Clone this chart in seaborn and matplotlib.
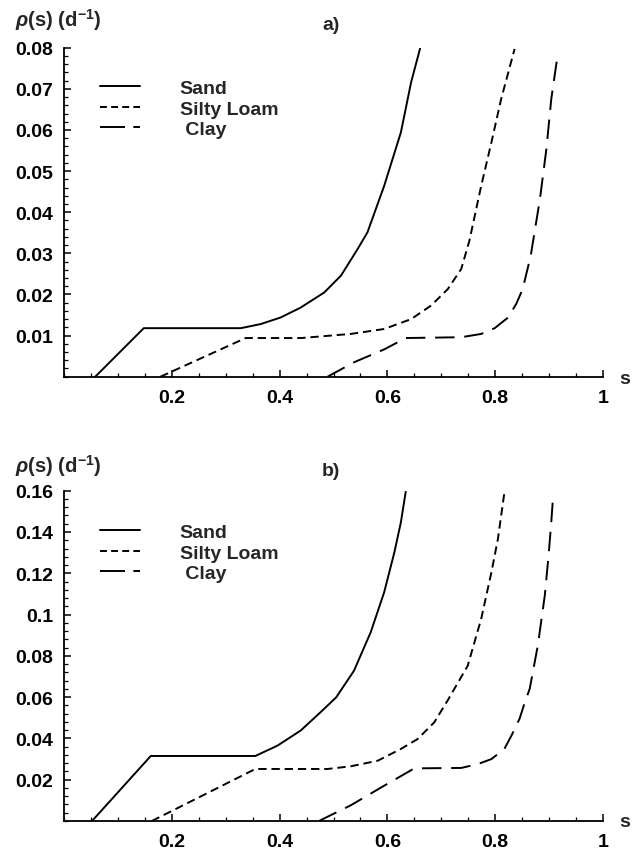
import numpy as np
import pandas as pd
import matplotlib
matplotlib.use("Agg")
import matplotlib.pyplot as plt
from matplotlib.lines import Line2D
from matplotlib.ticker import FixedLocator, MultipleLocator
import seaborn as sns

# ---------------- data ----------------
soils = ["Sand", "Silty Loam", "Clay"]

# panel a)
sand_a_s = [0.058, 0.148, 0.328, 0.365, 0.402, 0.439, 0.483, 0.514, 0.545, 0.563, 0.594, 0.625, 0.644, 0.661]
sand_a_r = [0.0, 0.0118, 0.0118, 0.0128, 0.0144, 0.0168, 0.0205, 0.0246, 0.0311, 0.0351, 0.0464, 0.0594, 0.0716, 0.080]
silt_a_s = [0.179, 0.337, 0.44, 0.532, 0.594, 0.644, 0.681, 0.712, 0.737, 0.752, 0.774, 0.793, 0.811, 0.836]
silt_a_r = [0.0, 0.0094, 0.0094, 0.0104, 0.0116, 0.014, 0.0173, 0.0213, 0.0262, 0.033, 0.0464, 0.057, 0.0675, 0.0797]
clay_a_s = [0.489, 0.538, 0.595, 0.634, 0.737, 0.774, 0.799, 0.824, 0.839, 0.851, 0.866, 0.883, 0.895, 0.904, 0.915]
clay_a_r = [0.0, 0.0035, 0.0067, 0.0094, 0.0096, 0.0104, 0.0118, 0.0144, 0.0177, 0.0213, 0.0295, 0.0432, 0.0554, 0.0675, 0.0775]

# panel b)
sand_b_s = [0.052, 0.161, 0.355, 0.396, 0.439, 0.476, 0.505, 0.538, 0.569, 0.594, 0.613, 0.625, 0.634]
sand_b_r = [0.0, 0.0315, 0.0315, 0.0365, 0.0438, 0.0527, 0.0599, 0.0728, 0.0914, 0.1108, 0.1302, 0.1447, 0.1595]
silt_b_s = [0.163, 0.355, 0.489, 0.532, 0.582, 0.625, 0.656, 0.687, 0.712, 0.749, 0.774, 0.793, 0.805, 0.817]
silt_b_r = [0.0, 0.0252, 0.0252, 0.0265, 0.0292, 0.0349, 0.0397, 0.0478, 0.0585, 0.0752, 0.0979, 0.1205, 0.1366, 0.159]
clay_b_s = [0.473, 0.532, 0.594, 0.65, 0.737, 0.768, 0.793, 0.817, 0.83, 0.845, 0.855, 0.864, 0.879, 0.892, 0.899, 0.904, 0.907]
clay_b_r = [0.0, 0.0076, 0.0171, 0.0255, 0.0257, 0.0276, 0.030, 0.0349, 0.0413, 0.0494, 0.0575, 0.064, 0.0849, 0.1092, 0.1285, 0.1447, 0.1557]

x_ticks = [0.2, 0.4, 0.6, 0.8, 1.0]
x_ticklabels = ["0.2", "0.4", "0.6", "0.8", "1"]
ya_ticks = [0.01, 0.02, 0.03, 0.04, 0.05, 0.06, 0.07, 0.08]
ya_ticklabels = ["0.01", "0.02", "0.03", "0.04", "0.05", "0.06", "0.07", "0.08"]
yb_ticks = [0.02, 0.04, 0.06, 0.08, 0.10, 0.12, 0.14, 0.16]
yb_ticklabels = ["0.02", "0.04", "0.06", "0.08", "0.1", "0.12", "0.14", "0.16"]
legend_labels = ["Sand", "Silty Loam", " Clay"]
panel_labels = ["a)", "b)"]
ylabel_text = r"$\rho$(s) (d$^{-1}$)"

# ---------------- style ----------------
sns.set_theme(style="white")
plt.rcParams["font.family"] = ["Liberation Sans", "DejaVu Sans"]
plt.rcParams["font.weight"] = "bold"
plt.rcParams["mathtext.fontset"] = "custom"
plt.rcParams["mathtext.rm"] = "Liberation Sans:bold"
plt.rcParams["mathtext.it"] = "Liberation Sans:italic:bold"
plt.rcParams["mathtext.bf"] = "Liberation Sans:bold"
plt.rcParams["lines.scale_dashes"] = False

FS = 14
LW = 1.4
dash_map = {"Sand": "", "Silty Loam": (6, 3.5), "Clay": (14, 7)}
legend_dash = {"Sand": None, "Silty Loam": (0, (5, 3)), "Clay": (0, (18, 6))}


def frame(s_list, r_list):
    parts = []
    for name, s, r in zip(soils, s_list, r_list):
        parts.append(pd.DataFrame({"s": s, "rho": r, "soil": name}))
    return pd.concat(parts, ignore_index=True)


df_a = frame([sand_a_s, silt_a_s, clay_a_s], [sand_a_r, silt_a_r, clay_a_r])
df_b = frame([sand_b_s, silt_b_s, clay_b_s], [sand_b_r, silt_b_r, clay_b_r])

W, H = 636, 853
fig = plt.figure(figsize=(W / 100, H / 100), dpi=100)
fig.patch.set_facecolor("white")

ax_a = fig.add_axes([64 / W, 1 - 377.7 / H, 539 / W, 329 / H])
ax_b = fig.add_axes([64 / W, 1 - 822 / H, 539 / W, 330.3 / H])

setups = [
    (ax_a, df_a, 0.08, ya_ticks, ya_ticklabels, 0.002, 20, 25, 380, 0.903),
    (ax_b, df_b, 0.16, yb_ticks, yb_ticklabels, 0.004, 466, 472, 823, 0.901),
]

for i, (ax, df, ymax, yt, ytl, yminor, ylab_y, plab_y, s_y, leg_y) in enumerate(setups):
    sns.lineplot(data=df, x="s", y="rho", style="soil", style_order=soils,
                 dashes=dash_map, color="black", linewidth=LW, sort=False,
                 estimator=None, legend=False, ax=ax)
    ax.set_xlim(0, 1)
    ax.set_ylim(0, ymax)
    ax.set_facecolor("white")
    for sp in ["top", "right"]:
        ax.spines[sp].set_visible(False)
    for sp in ["left", "bottom"]:
        ax.spines[sp].set_color("black")
        ax.spines[sp].set_linewidth(1.3)
    ax.set_xlabel("")
    ax.set_ylabel("")
    ax.xaxis.set_major_locator(FixedLocator(x_ticks))
    ax.set_xticklabels(x_ticklabels)
    ax.xaxis.set_minor_locator(MultipleLocator(0.05))
    ax.yaxis.set_major_locator(FixedLocator(yt))
    ax.set_yticklabels(ytl)
    ax.yaxis.set_minor_locator(MultipleLocator(yminor))
    ax.tick_params(which="both", direction="in", color="black",
                   bottom=True, left=True, top=False, right=False)
    ax.tick_params(which="major", length=5, width=1.1, labelsize=FS,
                   labelcolor="black")
    ax.tick_params(axis="x", which="major", pad=9)
    ax.tick_params(axis="y", which="major", pad=8)
    ax.tick_params(which="minor", length=2.8, width=0.9)
    for lab in ax.get_xticklabels() + ax.get_yticklabels():
        lab.set_fontweight("bold")

    handles = []
    for name in soils:
        ls = legend_dash[name]
        if ls is None:
            handles.append(Line2D([], [], color="black", lw=LW, linestyle="-"))
        else:
            handles.append(Line2D([], [], color="black", lw=LW, linestyle=ls))
    ax.legend(handles, legend_labels, loc="upper left",
              bbox_to_anchor=(0.0668, leg_y), frameon=False,
              borderpad=0, borderaxespad=0, labelspacing=0.15,
              handlelength=2.05, handletextpad=2.05,
              prop={"size": FS, "weight": "bold"})

    fig.text(15 / W, 1 - ylab_y / H, ylabel_text, fontsize=FS + 0.5,
             fontweight="bold", ha="left", va="center")
    fig.text(322 / W, 1 - plab_y / H, panel_labels[i], fontsize=FS,
             fontweight="bold", ha="left", va="center")
    fig.text(619 / W, 1 - s_y / H, "s", fontsize=FS, fontweight="bold",
             ha="left", va="center")

fig.savefig("out.png", dpi=100, facecolor="white")
